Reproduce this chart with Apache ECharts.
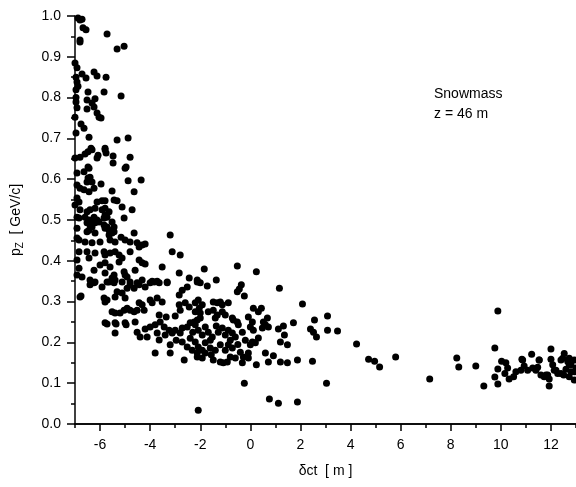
<!DOCTYPE html>
<html>
<head>
<meta charset="utf-8">
<script src="https://cdn.jsdelivr.net/npm/echarts@6/dist/echarts.min.js"></script>
<style>
html,body{margin:0;padding:0;background:#fff;}
#chart{width:576px;height:487px;}
</style>
</head>
<body>
<div id="chart"></div>
<script>
// x = delta ct [m], y = pz [GeV/c]
const headPoints = [
[-6.88,0.995],[-6.8,0.99],[-6.72,0.992],[-6.68,0.971],[-6.56,0.966],[-6.8,0.941],[-6.8,0.936],
[-5.72,0.956],[-5.32,0.919],[-5.04,0.926],[-7.0,0.885],[-6.92,0.873],[-6.96,0.850],[-6.92,0.838],
[-6.88,0.828],[-6.96,0.819],[-6.72,0.858],[-6.56,0.848],[-6.24,0.863],[-6.12,0.853],[-5.76,0.850],
[-6.48,0.814],[-5.84,0.814],[-5.16,0.804],[-6.96,0.789],[-6.96,0.80],[-6.92,0.775],[-6.52,0.794],
[-6.2,0.797],[-6.32,0.787],[-6.24,0.777],[-6.52,0.772],[-6.12,0.762],[-6.04,0.752],[-5.96,0.750],
[-7.0,0.752],[-6.76,0.735],[-6.64,0.725],[-6.96,0.713],[-6.44,0.703],[-5.32,0.696],[-4.88,0.701],
[-6.8,0.654],[-6.6,0.662],[-6.48,0.667],[-6.32,0.672],[-6.08,0.659],[-6.12,0.652],[-5.8,0.672],
[-5.76,0.664],[-5.48,0.657],[-4.8,0.654],[-7.0,0.652],[-5.48,0.640],[-4.96,0.630],[-6.48,0.630],
[-6.36,0.676],[-5.8,0.676]
];
const bodyPoints = [
[-6.92,0.615],[-6.64,0.618],[-6.44,0.627],[-5.0,0.627],[-6.48,0.603],[-6.4,0.605],[-6.32,0.593],
[-6.52,0.593],[-5.96,0.588],[-4.88,0.596],[-4.36,0.598],[-6.92,0.586],[-6.8,0.578],[-6.64,0.574],
[-6.44,0.569],[-6.24,0.578],[-5.52,0.571],[-4.64,0.569],[-6.92,0.554],[-6.84,0.544],[-7.0,0.537],
[-6.12,0.544],[-5.92,0.547],[-5.8,0.547],[-5.44,0.549],[-5.32,0.547],[-5.12,0.532],[-4.72,0.525],
[-6.8,0.525],[-6.52,0.520],[-6.4,0.525],[-6.2,0.529],[-5.92,0.525],[-5.8,0.529],[-5.64,0.520],
[-6.92,0.507],[-6.84,0.505],[-6.6,0.507],[-6.44,0.500],[-6.24,0.507],[-6.12,0.500],[-5.84,0.505],
[-5.72,0.507],[-5.8,0.512],[-5.04,0.505],[-6.52,0.493],[-6.4,0.488],[-6.32,0.495],[-6.2,0.493],
[-6.04,0.495],[-5.52,0.495],[-5.44,0.483],[-6.92,0.480],[-6.44,0.475],[-6.32,0.483],[-5.84,0.488],
[-5.8,0.480],[-5.72,0.483],[-5.64,0.475],[-6.92,0.456],[-6.52,0.471],[-6.2,0.468],[-5.64,0.463],
[-5.52,0.468],[-5.44,0.471],[-4.64,0.468],[-3.2,0.463],[-5.16,0.458],[-5.0,0.451],[-4.8,0.446],
[-4.52,0.444],[-4.44,0.434],[-4.32,0.439],[-4.2,0.441],[-6.84,0.451],[-6.6,0.446],[-6.32,0.444],
[-6.0,0.446],[-5.6,0.451],[-5.4,0.446],[-6.84,0.422],[-6.52,0.422],[-6.2,0.419],[-5.84,0.422],
[-5.8,0.414],[-5.6,0.419],[-5.4,0.422],[-5.24,0.414],[-5.12,0.407],[-4.8,0.422],[-3.12,0.422],
[-2.8,0.414],[-4.44,0.402],[-4.32,0.395],[-4.2,0.392],[-3.52,0.385],[-6.92,0.402],[-6.84,0.382],
[-6.44,0.407],[-6.0,0.390],[-5.8,0.395],[-5.6,0.385],[-5.24,0.397],[-5.04,0.373],[-4.6,0.377],
[-6.92,0.365],[-6.72,0.360],[-6.24,0.377],[-5.8,0.370],[-5.44,0.365],[-5.0,0.365],[-4.92,0.360],
[-4.32,0.353],[-3.92,0.350],[-3.72,0.350],[-3.32,0.348],[-2.84,0.370],[-2.44,0.358],[-2.12,0.353],
[-6.4,0.353],[-6.2,0.348],[-5.72,0.348],[-5.52,0.358],[-5.4,0.353],[-5.12,0.348],[-4.8,0.348],
[-4.52,0.346]
];
const corePoints = [
[-6.76,0.314],[-6.4,0.341],[-6.24,0.346],[-5.92,0.336],[-5.64,0.348],[-5.44,0.346],[-5.84,0.309],
[-5.8,0.299],[-5.4,0.311],[-5.32,0.324],[-5.12,0.321],[-5.0,0.309],[-4.92,0.333],[-4.8,0.341],
[-4.64,0.333],[-4.44,0.341],[-4.2,0.336],[-4.0,0.346],[-3.84,0.348],[-3.64,0.346],[-3.32,0.346],
[-5.52,0.275],[-5.4,0.272],[-5.2,0.272],[-5.04,0.279],[-4.92,0.284],[-4.8,0.279],[-4.64,0.275],
[-4.52,0.279],[-4.44,0.297],[-4.32,0.292],[-4.24,0.279],[-4.0,0.304],[-3.92,0.297],[-3.72,0.309],
[-3.52,0.299],[-5.8,0.248],[-5.4,0.248],[-5.0,0.248],[-4.6,0.250],[-5.4,0.223],[-4.4,0.213],
[-4.12,0.213],[-4.52,0.225],[-4.2,0.233],[-4.0,0.238],[-3.8,0.243],[-3.64,0.267],[-3.6,0.250],
[-3.44,0.238],[-3.24,0.230],[-3.72,0.223],[-3.64,0.206],[-3.4,0.218],[-3.12,0.223],[-3.0,0.230],
[-2.8,0.223],[-2.72,0.235],[-2.52,0.238],[-2.4,0.248],[-2.24,0.250],[-2.12,0.255],[-2.0,0.260],
[-3.2,0.194],[-3.2,0.174],[-3.8,0.174],[-2.64,0.157],[-2.72,0.201],[-2.52,0.189],[-2.32,0.181],
[-2.12,0.174],[-2.84,0.316],[-2.72,0.328],[-2.52,0.336],[-2.6,0.297],[-2.44,0.287],[-2.8,0.279],
[-2.84,0.292],[-2.2,0.297],[-2.04,0.284],[-2.0,0.272],[-6.8,0.311],[-5.72,0.304],[-5.72,0.245],
[-5.36,0.245],[-4.96,0.243],[-3.36,0.262],[-3.0,0.265],[-2.96,0.205],[-2.4,0.210],[-2.3,0.225],
[-1.84,0.380],[-0.52,0.387],[0.24,0.373],[-2.12,0.348],[-2.0,0.346],[-1.72,0.338],[-1.36,0.353],
[-0.52,0.324],[-0.44,0.331],[-0.36,0.341],[-0.24,0.314],[1.16,0.333],[2.08,0.294],[2.56,0.255],
[2.4,0.233],[2.52,0.225],[2.64,0.213],[3.08,0.230],[3.08,0.265],[3.48,0.228],[-1.48,0.299],
[-1.32,0.297],[-1.2,0.299],[-1.12,0.292],[-0.88,0.297],[-2.08,0.304],[-1.92,0.292],[-2.2,0.275],
[-1.68,0.275],[-1.48,0.279],[-1.32,0.267],[-1.4,0.260],[-1.12,0.275],[-1.0,0.267],[-0.72,0.260],
[-0.68,0.255],[-0.52,0.250],[-0.48,0.243],[0.12,0.284],[0.44,0.284],[0.32,0.275],[-0.08,0.262],
[0.08,0.250],[0.0,0.238],[0.12,0.230],[0.52,0.250],[0.68,0.260],[0.6,0.243],[0.48,0.235],
[0.72,0.238],[1.12,0.233],[1.32,0.240],[1.36,0.218],[1.72,0.248],[1.2,0.201],[1.48,0.194],
[-2.2,0.243],[-2.08,0.230],[-1.92,0.218],[-1.8,0.238],[-1.68,0.225],[-1.52,0.213],[-1.28,0.225],
[-1.12,0.235],[-1.0,0.218],[-0.88,0.230],[-0.72,0.223],[-0.6,0.213],[-0.32,0.225],[-2.2,0.201],
[-2.08,0.189],[-1.92,0.181],[-1.8,0.199],[-1.6,0.186],[-1.4,0.181],[-1.2,0.194],[-1.0,0.181],
[-0.88,0.194],[-0.72,0.186],[-2.12,0.164],[-1.92,0.162],[-1.8,0.174],[-1.48,0.157],[-1.2,0.152],
[-1.08,0.150],[-0.92,0.152],[-0.8,0.164],[-0.6,0.162],[-0.4,0.176],[-0.28,0.164],[-0.08,0.174],
[0.0,0.194],[0.08,0.201],[0.2,0.199],[0.32,0.211],[-0.32,0.150],[-0.08,0.162],[0.24,0.145],
[0.6,0.174],[0.72,0.152],[0.92,0.167],[1.2,0.152],[1.48,0.150],[1.88,0.157],[2.48,0.154],
[-1.6,0.205],[-1.36,0.240],[-0.8,0.205],[-0.5,0.195],[-1.56,0.170],[-0.2,0.205]
];
const tailPoints = [
[-0.24,0.100],[0.76,0.061],[-2.08,0.034],[1.12,0.051],[1.88,0.054],[3.04,0.100],[4.24,0.196],
[4.72,0.159],[4.96,0.154],[5.16,0.140],[5.8,0.164],[7.16,0.110],[8.24,0.162],[8.32,0.140],
[9.0,0.142],[9.32,0.093],[9.88,0.277],[9.76,0.186],[9.88,0.135],[9.76,0.115],[9.88,0.098],
[10.03,0.154],[10.2,0.150],[10.27,0.137],[10.16,0.124],[10.33,0.110],[10.51,0.116],[10.6,0.128],
[10.8,0.132],[10.87,0.157],[10.93,0.142],[11.07,0.132],[11.23,0.171],[11.27,0.137],[11.4,0.132],
[11.53,0.157],[11.47,0.139],[11.6,0.120],[11.73,0.116],[11.87,0.120],[11.93,0.093],[12.0,0.184],
[12.0,0.159],[12.07,0.145],[12.13,0.132],[12.27,0.124],[12.4,0.157],[12.53,0.173],[12.51,0.120],
[12.6,0.134],[12.73,0.161],[12.73,0.145],[12.8,0.128],[12.93,0.157],[12.93,0.108],[13.0,0.137],
[12.47,0.161],[12.67,0.153],[12.8,0.145],[12.93,0.128],[12.73,0.116],[12.4,0.124],[12.2,0.132],
[11.8,0.120],[11.93,0.110],[10.84,0.159],[11.53,0.157]
];
const xLabelValues = [-6,-4,-2,0,2,4,6,8,10,12];
const annotation = ['Snowmass', 'z = 46 m'];

const font = 'Liberation Sans, Arial, sans-serif';
const chart = echarts.init(document.getElementById('chart'), null, {renderer: 'canvas'});
const allPoints = headPoints.concat(bodyPoints, corePoints, tailPoints);

chart.setOption({
  animation: false,
  backgroundColor: '#fff',
  grid: {left: 75, right: 0, top: 16, bottom: 63, containLabel: false},
  xAxis: [{
    // minor ticks at every metre
    type: 'value', min: -7, max: 13, interval: 1,
    axisLine: {onZero: false, lineStyle: {color: '#000', width: 1.5}},
    axisTick: {show: true, length: 4, lineStyle: {color: '#000', width: 1.5}},
    axisLabel: {show: false},
    splitLine: {show: false}
  }, {
    // major ticks and labels every 2 m
    type: 'value', min: -7, max: 13, interval: 1, position: 'bottom',
    name: 'δct  [ m ]', nameLocation: 'middle', nameGap: 40,
    nameTextStyle: {fontFamily: font, fontSize: 14, color: '#000'},
    axisLine: {onZero: false, lineStyle: {color: '#000', width: 1.5}},
    axisTick: {show: true, length: 7, customValues: xLabelValues, lineStyle: {color: '#000', width: 1.5}},
    axisLabel: {customValues: xLabelValues, margin: 14, fontFamily: font, fontSize: 14, color: '#000'},
    splitLine: {show: false}
  }],
  yAxis: {
    type: 'value', min: 0, max: 1, interval: 0.1,
    name: '{p|p}{s|Z}{p|  [ GeV/c]}', nameLocation: 'middle', nameGap: 50, nameRotate: 90,
    nameTextStyle: {
      fontFamily: font, fontSize: 14, color: '#000',
      rich: {p: {fontFamily: font, fontSize: 14, color: '#000'}, s: {fontFamily: font, fontSize: 10, color: '#000', verticalAlign: 'bottom', padding: [8, 0, 0, 0]}}
    },
    axisLine: {onZero: false, lineStyle: {color: '#000', width: 1.5}},
    axisTick: {length: 8, lineStyle: {color: '#000', width: 1.5}},
    minorTick: {show: true, splitNumber: 2, length: 4, lineStyle: {color: '#000', width: 1.5}},
    axisLabel: {margin: 14, fontFamily: font, fontSize: 14, color: '#000', formatter: v => v.toFixed(1)},
    splitLine: {show: false}
  },
  series: [{
    type: 'scatter', xAxisIndex: 0, data: allPoints, symbol: 'circle', symbolSize: 7,
    itemStyle: {color: '#000', opacity: 1}, clip: true
  }],
  graphic: [{
    type: 'text', left: 434, top: 84,
    style: {text: annotation.join('\n'), fontFamily: font, fontSize: 14, lineHeight: 20, fill: '#000'}
  }]
});
</script>
</body>
</html>
